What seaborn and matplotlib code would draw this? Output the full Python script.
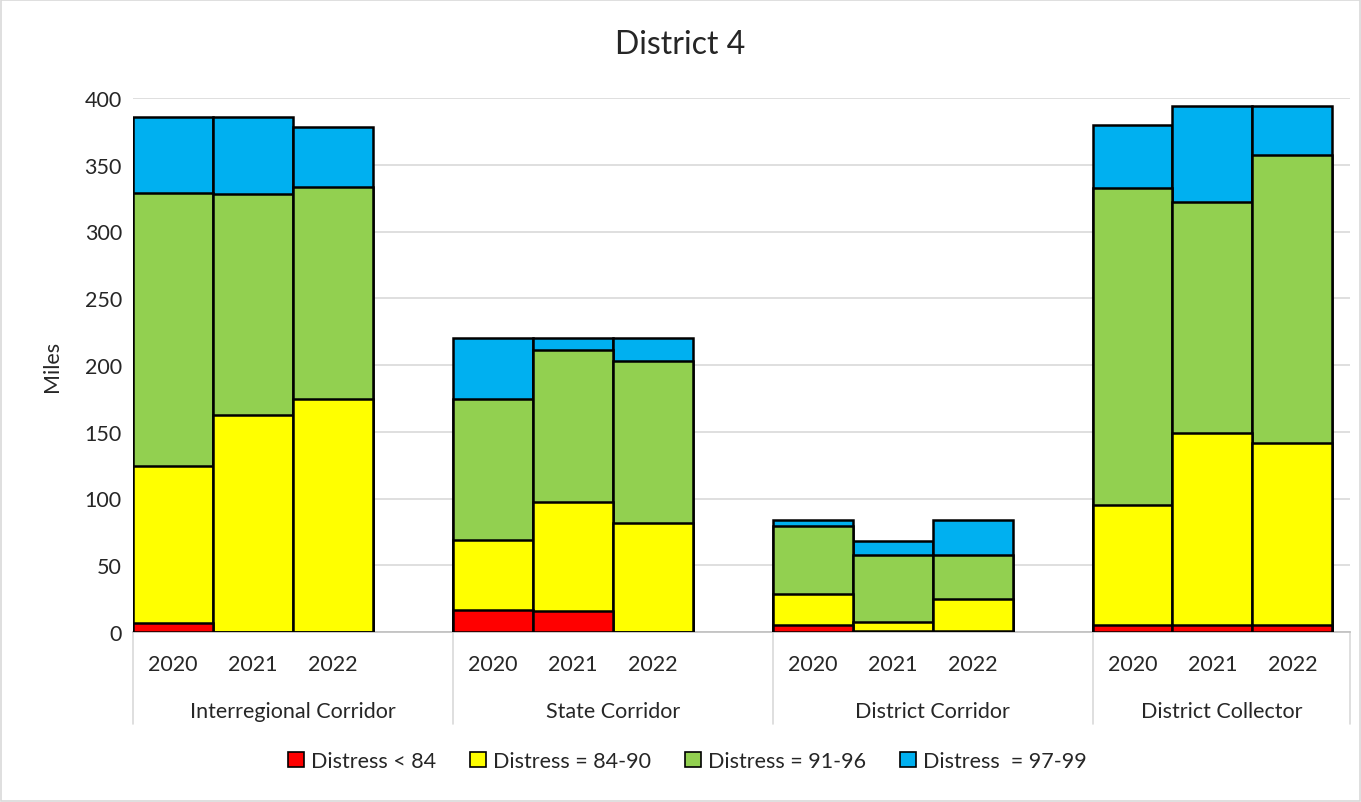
import numpy as np
import pandas as pd
import matplotlib
matplotlib.use('Agg')
import matplotlib.pyplot as plt
import matplotlib.transforms as mtransforms
from matplotlib.patches import Patch, Rectangle
import seaborn as sns

# data
groups = ['Interregional Corridor', 'State Corridor', 'District Corridor', 'District Collector']
years = ['2020', '2021', '2022']
lt_84 = [6.5, 0, 0, 16.7, 15.5, 0, 5.5, 1.0, 1.0, 5.5, 5.5, 5.5]
d_84_90 = [118.0, 162.5, 174.8, 52.4, 82.1, 81.9, 23.2, 6.5, 24.0, 89.3, 143.6, 135.9]
d_91_96 = [204.5, 165.3, 158.4, 105.4, 113.9, 121.4, 50.5, 50.2, 32.4, 237.8, 173.1, 216.1]
d_97_99 = [56.6, 57.6, 44.9, 45.7, 8.7, 16.9, 4.5, 10.5, 26.3, 47.4, 71.8, 36.5]

series_names = ['Distress < 84', 'Distress = 84-90', 'Distress = 91-96', 'Distress  = 97-99']
colors = ['#ff0000', '#ffff00', '#92d050', '#00b0f0']

sns.set_style('white')
plt.rcParams['font.family'] = ['Lato', 'DejaVu Sans']

# slots: 3 years per group, empty slot between groups
slot_order = []
for i, g in enumerate(groups):
    for y in years:
        slot_order.append(g + '|' + y)
    if i < len(groups) - 1:
        slot_order.append(' ' * (i + 1))

df = pd.DataFrame({
    'slot': [g + '|' + y for g in groups for y in years],
    'group': [g for g in groups for y in years],
    'year': [y for g in groups for y in years],
})
layers = [lt_84, d_84_90, d_91_96, d_97_99]
cum = np.cumsum(np.array(layers), axis=0)

fs = 15.5

fig = plt.figure(figsize=(13.61, 8.03), dpi=100)
ax = fig.add_axes([133 / 1361, (803 - 633) / 803, (1350 - 133) / 1361, 534 / 803])

# draw cumulative totals from top layer down so each segment shows
for k in range(3, -1, -1):
    d = df.copy()
    d['value'] = cum[k]
    sns.barplot(data=d, x='slot', y='value', order=slot_order, color=colors[k],
                saturation=1, width=1.0, edgecolor='black', linewidth=1.8,
                errorbar=None, ax=ax, zorder=3)

ax.set_ylim(0, 400)
ax.set_xlim(-0.5, 14.72)
ax.set_yticks(range(0, 401, 50))
ax.tick_params(axis='y', labelsize=fs, length=0, pad=8)
ax.yaxis.grid(True, color='#d9d9d9', linewidth=1.2, zorder=0)
ax.set_axisbelow(True)
ax.set_xticks([])
ax.set_xlabel('')
ax.set_ylabel('Miles', fontsize=fs, labelpad=16)
for s in ['top', 'right', 'left']:
    ax.spines[s].set_visible(False)
ax.spines['bottom'].set_color('#bfbfbf')
ax.spines['bottom'].set_linewidth(1.2)

trans = mtransforms.blended_transform_factory(ax.transData, ax.transAxes)
for i, s in enumerate(slot_order):
    if '|' in s:
        ax.text(i, -0.06, s.split('|')[1], transform=trans, ha='center', va='center', fontsize=fs)
for gi, g in enumerate(groups):
    start = gi * 4 - 0.5
    end = start + 4 if gi < len(groups) - 1 else 14.72
    ax.text((start + end) / 2, -0.148, g, transform=trans, ha='center', va='center', fontsize=fs)
    ax.plot([start, start], [0, -0.172], transform=trans, color='#d9d9d9', lw=1.2, clip_on=False)
ax.plot([14.72, 14.72], [0, -0.172], transform=trans, color='#d9d9d9', lw=1.2, clip_on=False)

fig.text(0.5, (803 - 45) / 803, 'District 4', ha='center', va='center', fontsize=23)

handles = [Patch(facecolor=c, edgecolor='black', linewidth=1.2) for c in colors]
fig.legend(handles, series_names, loc='center', bbox_to_anchor=(0.505, (803 - 762) / 803), ncol=4,
           frameon=False, fontsize=fs, handlelength=0.75, handleheight=0.75, handletextpad=0.3,
           columnspacing=1.6)

fig.patches.append(Rectangle((0.001, 0.001), 0.998, 0.998, transform=fig.transFigure,
                             fill=False, edgecolor='#d9d9d9', linewidth=1.2))

fig.savefig('out.png', dpi=100)
